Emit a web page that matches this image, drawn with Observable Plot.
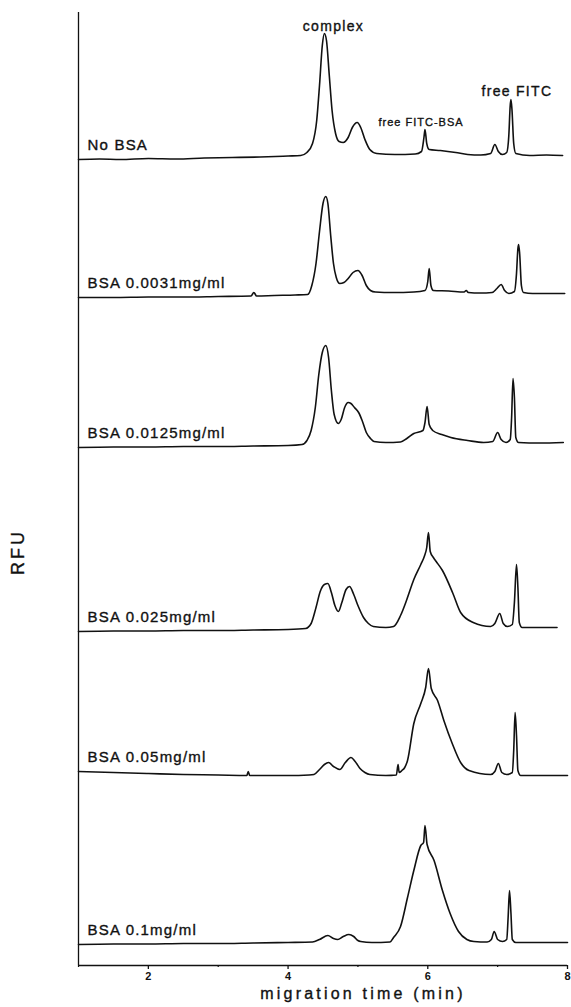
<!DOCTYPE html>
<html><head><meta charset="utf-8">
<script src="https://cdn.jsdelivr.net/npm/d3@7"></script>
<script src="https://cdn.jsdelivr.net/npm/@observablehq/plot@0.6"></script>
<style>body{margin:0;background:#fff}</style>
</head><body><div id="chart"></div>
<script>
// ---- data ----
const sampleLabels = ["No BSA", "BSA 0.0031mg/ml", "BSA 0.0125mg/ml", "BSA 0.025mg/ml", "BSA 0.05mg/ml", "BSA 0.1mg/ml"];
// vertical stacking offsets of each electropherogram (RFU units of the stacked plot)
const offsets = [810, 672, 523, 338, 190, 23];

// [migration time (min), signal above baseline (RFU)]
const traceNoBSA = [[1.0,-4],[1.3,-3.5],[1.6,-4],[2.0,-3],[2.4,-3.5],[2.8,-2.5],[3.2,-2],[3.6,-1.5],[4.0,-0.5],[4.18,0],[4.27,3],[4.35,12],[4.41,35],[4.45,70],[4.49,110],[4.52,122],[4.55,115],[4.59,80],[4.63,45],[4.68,22],[4.73,14],[4.79,13],[4.86,18],[4.92,28],[4.99,33],[5.04,28],[5.10,16],[5.17,6],[5.27,2],[5.53,1],[5.82,1.5],[5.91,4],[5.945,18],[5.96,26],[5.985,12],[6.02,6],[6.18,5],[6.40,3],[6.57,1],[6.76,0.5],[6.90,2],[6.96,11],[7.01,4],[7.07,1],[7.13,3],[7.16,20],[7.18,50],[7.19,56],[7.205,46],[7.23,12],[7.26,2],[7.46,0],[7.7,0.5],[7.93,0]];
const trace0031 = [[1.0,-4],[1.5,-4],[2.0,-3.5],[2.5,-3.5],[3.0,-3],[3.47,-2.5],[3.51,1],[3.55,-2.5],[3.8,-2],[4.1,-1.5],[4.28,-1],[4.34,8],[4.40,30],[4.45,62],[4.50,90],[4.54,97],[4.57,90],[4.61,58],[4.65,30],[4.69,16],[4.74,10],[4.80,11],[4.86,15],[4.93,21],[5.0,23],[5.06,18],[5.12,8],[5.18,3],[5.25,1.5],[5.5,1],[5.8,1.5],[5.96,3],[6.0,12],[6.02,25],[6.045,8],[6.08,3],[6.3,2.5],[6.52,1.5],[6.55,3],[6.58,1],[6.75,0.5],[6.92,1],[6.99,5],[7.05,9],[7.10,3],[7.16,0],[7.24,2],[7.27,20],[7.29,45],[7.30,49],[7.315,40],[7.34,8],[7.37,1],[7.5,0],[7.96,0]];
const trace0125 = [[1.0,-5],[1.5,-4.5],[2.0,-4.5],[2.5,-4],[3.0,-4],[3.5,-3.5],[4.0,-3],[4.2,-2],[4.27,2],[4.33,12],[4.39,35],[4.44,68],[4.49,90],[4.54,97],[4.58,85],[4.62,52],[4.66,28],[4.72,19],[4.76,23],[4.81,35],[4.86,40],[4.90,39],[4.95,35],[5.01,30],[5.06,22],[5.12,10],[5.18,4],[5.23,1],[5.4,0],[5.61,0.5],[5.7,4],[5.80,9],[5.93,12],[5.96,20],[5.99,36],[6.02,18],[6.07,12],[6.2,8],[6.33,5],[6.57,2],[6.8,0],[6.93,1],[7.0,10],[7.05,3],[7.12,0],[7.18,3],[7.20,25],[7.22,64],[7.24,45],[7.26,5],[7.3,0],[7.6,-0.5],[7.94,0]];
const trace025 = [[1.0,-4],[1.5,-3.5],[2.0,-3.5],[2.5,-3],[3.0,-3],[3.5,-2.5],[4.0,-2],[4.25,-1],[4.33,4],[4.40,20],[4.46,36],[4.52,43],[4.57,44],[4.62,35],[4.67,22],[4.72,16],[4.77,25],[4.83,38],[4.88,41],[4.94,33],[5.0,22],[5.08,10],[5.15,4],[5.22,1],[5.4,0],[5.51,1],[5.61,12],[5.70,28],[5.80,48],[5.90,63],[5.95,71],[5.985,80],[6.01,95],[6.035,76],[6.08,70],[6.12,66],[6.21,57],[6.36,34],[6.47,15],[6.65,5],[6.90,1],[6.96,4],[7.03,14],[7.08,4],[7.14,1],[7.21,3],[7.24,25],[7.27,63],[7.29,40],[7.31,5],[7.35,0],[7.6,0],[7.85,0]];
const trace05 = [[1.0,4],[1.5,3],[2.0,2],[2.5,1],[3.0,0.5],[3.41,0],[3.43,4],[3.45,0],[4.0,0],[4.3,0.5],[4.37,1],[4.45,6],[4.52,11],[4.58,13],[4.65,9],[4.74,6],[4.82,13],[4.90,18],[4.96,14],[5.03,7],[5.10,3],[5.17,1],[5.4,0],[5.55,0.5],[5.575,11],[5.59,3],[5.63,5],[5.67,8],[5.71,15],[5.80,52],[5.90,72],[5.97,88],[6.01,107],[6.05,87],[6.14,75],[6.23,55],[6.35,32],[6.47,13],[6.59,5],[6.9,1],[6.96,4],[7.01,12],[7.06,3],[7.13,1],[7.21,3],[7.23,25],[7.25,63],[7.27,40],[7.29,5],[7.33,0],[7.6,0],[8.0,0]];
const trace1 = [[1.0,-2],[1.5,-1.5],[2.0,-1.5],[2.5,-1],[3.0,-1],[3.5,-0.5],[4.0,0],[4.35,0.5],[4.45,3],[4.57,7],[4.65,4],[4.71,3],[4.79,6],[4.87,8],[4.94,6],[5.0,2],[5.04,1],[5.2,0],[5.46,0.5],[5.51,5],[5.61,16],[5.71,45],[5.80,72],[5.90,97],[5.94,100],[5.96,117],[5.99,98],[6.09,82],[6.21,52],[6.32,29],[6.44,11],[6.56,3],[6.66,1],[6.85,0.5],[6.91,3],[6.95,11],[7.0,3],[7.07,1],[7.13,3],[7.15,25],[7.17,52],[7.19,30],[7.21,3],[7.26,0],[7.6,0],[8.0,0]];
const traces = [traceNoBSA, trace0031, trace0125, trace025, trace05, trace1];

// peak annotations on the "No BSA" trace
const annotationLabels = ["complex", "free FITC-BSA", "free FITC"];
const annotationTimes = [4.52, 5.96, 7.19];

const majorTicks = [2, 4, 6, 8];
const minorTicks = [1, 3, 5, 7];
const xLabel = "migration time (min)";
const yLabel = "RFU";

// ---- build tables ----
const rows = traces.flatMap((tr, i) => tr.map(([t, h]) => ({sample: sampleLabels[i], t, v: offsets[i] + h})));
const labelRows = sampleLabels.map((s, i) => ({text: s, t: traces[i][0][0], v: offsets[i] + traces[i][0][1]}));
const annRows = annotationLabels.map((a, i) => {
  const t0 = annotationTimes[i];
  const near = traces[0].filter(([t]) => Math.abs(t - t0) < 0.05);
  const peak = near.reduce((m, p) => p[1] > m[1] ? p : m, near[0]);
  return {text: a, t: peak[0], v: offsets[0] + peak[1], idx: i};
});
const annDx = [9, -4, 6];
const annDy = [-3, -4, -4];
const annSize = [14, 11, 14];

const font = "'Liberation Sans', Arial, Helvetica, sans-serif";
const ink = "#111";
const textStroke = {stroke: ink, strokeWidth: 0.35};

const svg = Plot.plot({
  width: 571, height: 1007,
  marginLeft: 78, marginRight: 4, marginTop: 12, marginBottom: 42,
  x: {domain: [1, 8]},
  y: {domain: [0, 953], axis: null},
  style: {fontFamily: font, background: "white", color: ink},
  marks: [
    Plot.ruleX([1], {y1: 0, y2: 953, stroke: ink, strokeWidth: 1.3}),
    Plot.ruleY([0], {x1: 1, x2: 8, stroke: ink, strokeWidth: 1.6}),
    Plot.axisX({ticks: majorTicks, tickFormat: d => String(d), tickSize: 4, tickPadding: 3, fontSize: 11, fontWeight: "bold", label: null, strokeWidth: 1.3}),
    Plot.axisX({ticks: minorTicks, tickSize: 2, tickFormat: () => "", label: null, strokeWidth: 1.2}),
    Plot.line(rows, {x: "t", y: "v", z: "sample", stroke: ink, strokeWidth: 1.6, curve: "monotone-x"}),
    Plot.text(labelRows, {x: "t", y: "v", text: "text", dx: 9, dy: -10, textAnchor: "start", lineAnchor: "bottom", fontSize: 15, fill: ink, ...textStroke}),
    ...annRows.map(a => Plot.text([a], {x: "t", y: "v", text: "text", dx: annDx[a.idx], dy: annDy[a.idx], lineAnchor: "bottom", fontSize: annSize[a.idx], fill: ink, ...textStroke})),
    Plot.text([yLabel], {frameAnchor: "left", dx: -60, dy: 86, rotate: -90, fontSize: 18, fill: ink, ...textStroke}),
    Plot.text([xLabel], {frameAnchor: "bottom", dx: 40, dy: 33, fontSize: 16, fill: ink, ...textStroke})
  ]
});

const spacing = new Map([[xLabel, "3.2px"], [yLabel, "3px"], ["complex", "1.3px"], ["free FITC", "1.3px"], ["free FITC-BSA", "1px"]]);
sampleLabels.forEach(s => spacing.set(s, "1.2px"));
svg.querySelectorAll("text").forEach(el => {
  const sp = spacing.get(el.textContent);
  if (sp) el.setAttribute("letter-spacing", sp);
});
document.getElementById("chart").appendChild(svg);
</script>
</body></html>
